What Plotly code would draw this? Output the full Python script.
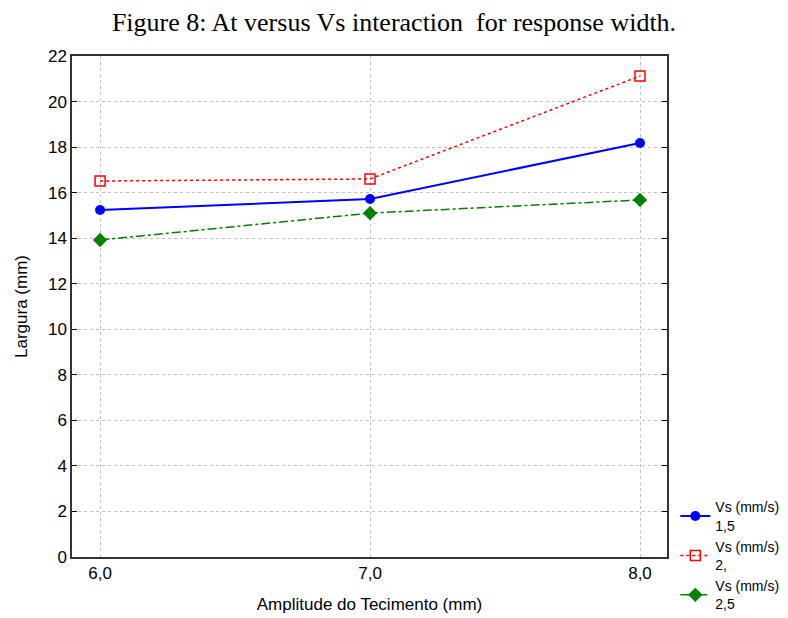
import plotly.graph_objects as go

x_vals = [6.0, 7.0, 8.0]
x_labels = ["6,0", "7,0", "8,0"]
vs_15 = [15.24, 15.72, 18.18]
vs_20 = [16.51, 16.60, 21.12]
vs_25 = [13.92, 15.10, 15.68]
y_ticks = list(range(0, 23, 2))

fig = go.Figure()
fig.add_trace(go.Scatter(x=x_vals, y=vs_15, mode="lines+markers", name="Vs (mm/s)<br>1,5",
                         line=dict(color="#0000ff", width=2, dash="solid"),
                         marker=dict(symbol="circle", size=10, color="#0000ff")))
fig.add_trace(go.Scatter(x=x_vals, y=vs_20, mode="lines+markers", name="Vs (mm/s)<br>2,",
                         line=dict(color="#ff0000", width=1.5, dash="dot"),
                         marker=dict(symbol="square-open", size=10, color="#ff0000", line=dict(width=1.5))))
fig.add_trace(go.Scatter(x=x_vals, y=vs_25, mode="lines+markers", name="Vs (mm/s)<br>2,5",
                         line=dict(color="#008000", width=1.5, dash="dashdot"),
                         marker=dict(symbol="diamond", size=11, color="#008000")))

fig.update_layout(
    width=788, height=618,
    margin=dict(l=72, r=121, t=56, b=61, autoexpand=False),
    paper_bgcolor="white", plot_bgcolor="white",
    title=dict(text="Figure 8: At versus Vs interaction  for response width.",
               x=0.5, xref="container", y=0.965, yanchor="middle",
               font=dict(family="Liberation Serif", size=26, color="black")),
    font=dict(family="Liberation Sans", size=17, color="black"),
    showlegend=True,
    legend=dict(x=0.857, xanchor="left", xref="container", y=0.205, yanchor="top", yref="container",
                font=dict(family="Liberation Sans", size=14, color="black"),
                bgcolor="rgba(0,0,0,0)", tracegroupgap=0, itemwidth=30),
    xaxis=dict(range=[5.896, 8.1], tickvals=x_vals, ticktext=x_labels,
               showgrid=True, gridcolor="#c0c0c0", griddash="dot", gridwidth=1,
               showline=True, linecolor="#333333", linewidth=1.5, mirror=True,
               ticks="", zeroline=False,
               title=dict(text="Amplitude do Tecimento (mm)", font=dict(size=17), standoff=16),
               tickfont=dict(size=17)),
    yaxis=dict(range=[0, 22], tickvals=y_ticks,
               showgrid=True, gridcolor="#c0c0c0", griddash="dot", gridwidth=1,
               showline=True, linecolor="#333333", linewidth=1.5, mirror="ticks",
               ticks="inside", ticklen=5, tickcolor="#000000", zeroline=False,
               title=dict(text="Largura (mm)", font=dict(size=17), standoff=16),
               tickfont=dict(size=17)),
)

fig.write_html("out.html")
